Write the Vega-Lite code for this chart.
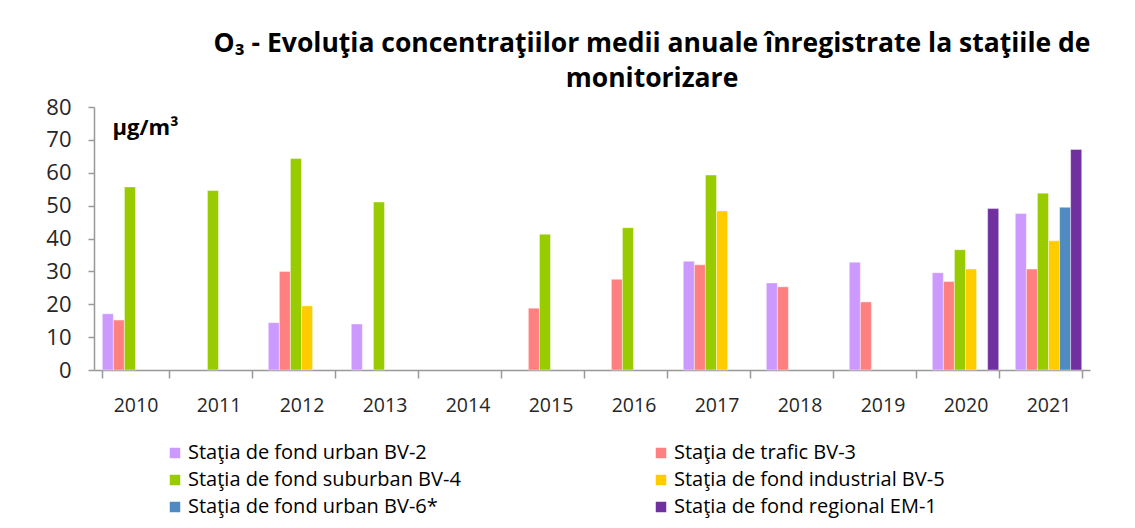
{
  "$schema": "https://vega.github.io/schema/vega-lite/v6.json",
  "autosize": "none",
  "width": 996,
  "height": 263,
  "padding": {"left": 94, "top": 107, "right": 45, "bottom": 158},
  "background": "white",
  "config": {
    "view": {"stroke": null},
    "font": "Open Sans"
  },
  "title": {
    "text": ["O₃ -  Evoluţia concentraţiilor medii anuale înregistrate la staţiile de", "monitorizare"],
    "font": "Open Sans",
    "fontWeight": "bold",
    "fontSize": 26.5,
    "color": "#000000",
    "anchor": "middle",
    "dx": 60,
    "offset": 4,
    "lineHeight": 35
  },
  "data": {
    "values": [
      {"year": "2010", "station": "Staţia de fond urban BV-2", "value": 17.1},
      {"year": "2010", "station": "Staţia de trafic BV-3", "value": 15.2},
      {"year": "2010", "station": "Staţia de fond suburban BV-4", "value": 55.7},
      {"year": "2011", "station": "Staţia de fond suburban BV-4", "value": 54.6},
      {"year": "2012", "station": "Staţia de fond urban BV-2", "value": 14.4},
      {"year": "2012", "station": "Staţia de trafic BV-3", "value": 30.0},
      {"year": "2012", "station": "Staţia de fond suburban BV-4", "value": 64.3},
      {"year": "2012", "station": "Staţia de fond industrial BV-5", "value": 19.5},
      {"year": "2013", "station": "Staţia de fond urban BV-2", "value": 14.0},
      {"year": "2013", "station": "Staţia de fond suburban BV-4", "value": 51.1},
      {"year": "2015", "station": "Staţia de trafic BV-3", "value": 18.8},
      {"year": "2015", "station": "Staţia de fond suburban BV-4", "value": 41.3},
      {"year": "2016", "station": "Staţia de trafic BV-3", "value": 27.6},
      {"year": "2016", "station": "Staţia de fond suburban BV-4", "value": 43.3},
      {"year": "2017", "station": "Staţia de fond urban BV-2", "value": 33.1},
      {"year": "2017", "station": "Staţia de trafic BV-3", "value": 32.0},
      {"year": "2017", "station": "Staţia de fond suburban BV-4", "value": 59.3},
      {"year": "2017", "station": "Staţia de fond industrial BV-5", "value": 48.4},
      {"year": "2018", "station": "Staţia de fond urban BV-2", "value": 26.5},
      {"year": "2018", "station": "Staţia de trafic BV-3", "value": 25.3},
      {"year": "2019", "station": "Staţia de fond urban BV-2", "value": 32.8},
      {"year": "2019", "station": "Staţia de trafic BV-3", "value": 20.7},
      {"year": "2020", "station": "Staţia de fond urban BV-2", "value": 29.6},
      {"year": "2020", "station": "Staţia de trafic BV-3", "value": 26.9},
      {"year": "2020", "station": "Staţia de fond suburban BV-4", "value": 36.6},
      {"year": "2020", "station": "Staţia de fond industrial BV-5", "value": 30.7},
      {"year": "2020", "station": "Staţia de fond regional EM-1", "value": 49.1},
      {"year": "2021", "station": "Staţia de fond urban BV-2", "value": 47.6},
      {"year": "2021", "station": "Staţia de trafic BV-3", "value": 30.7},
      {"year": "2021", "station": "Staţia de fond suburban BV-4", "value": 53.8},
      {"year": "2021", "station": "Staţia de fond industrial BV-5", "value": 39.3},
      {"year": "2021", "station": "Staţia de fond urban BV-6*", "value": 49.5},
      {"year": "2021", "station": "Staţia de fond regional EM-1", "value": 67.1}
    ]
  },
  "mark": {"type": "bar", "stroke": "white", "strokeWidth": 0.6, "strokeOpacity": 0.7},
  "encoding": {
    "x": {
      "field": "year",
      "type": "nominal",
      "scale": {
        "domain": ["2010","2011","2012","2013","2014","2015","2016","2017","2018","2019","2020","2021"],
        "paddingInner": 0.2,
        "paddingOuter": 0.1
      },
      "axis": {
        "title": null,
        "labelAngle": 0,
        "labelFontSize": 19.5,
        "labelColor": "#262626",
        "labelPadding": 18,
        "tickBand": "extent",
        "tickSize": 8,
        "tickColor": "#999999",
        "domainColor": "#999999",
        "domainWidth": 1.5,
        "tickWidth": 1.5
      }
    },
    "xOffset": {
      "field": "station",
      "type": "nominal",
      "scale": {
        "domain": ["Staţia de fond urban BV-2", "Staţia de trafic BV-3", "Staţia de fond suburban BV-4", "Staţia de fond industrial BV-5", "Staţia de fond urban BV-6*", "Staţia de fond regional EM-1"],
        "paddingInner": 0,
        "paddingOuter": 0
      }
    },
    "y": {
      "field": "value",
      "type": "quantitative",
      "scale": {"domain": [0, 80]},
      "axis": {
        "title": "µg/m³",
        "titleAngle": 0,
        "titleX": 18,
        "titleY": 32,
        "titleAlign": "left",
        "titleFontSize": 22,
        "titleFontWeight": "bold",
        "titleColor": "#000000",
        "values": [0,10,20,30,40,50,60,70,80],
        "labelFontSize": 22,
        "labelColor": "#262626",
        "labelPadding": 17,
        "grid": false,
        "tickSize": 6,
        "tickColor": "#999999",
        "domainColor": "#999999",
        "domainWidth": 1.5,
        "tickWidth": 1.5
      }
    },
    "color": {
      "field": "station",
      "type": "nominal",
      "scale": {
        "domain": ["Staţia de fond urban BV-2", "Staţia de trafic BV-3", "Staţia de fond suburban BV-4", "Staţia de fond industrial BV-5", "Staţia de fond urban BV-6*", "Staţia de fond regional EM-1"],
        "range": ["#CC99FF", "#FF8080", "#99CC00", "#FFCC00", "#4F8BC0", "#7030A0"]
      },
      "legend": {
        "title": null,
        "orient": "none",
        "direction": "horizontal",
        "legendX": 71,
        "legendY": 336,
        "columns": 2,
        "columnPadding": 190,
        "rowPadding": 7,
        "symbolType": "square",
        "symbolSize": 110,
        "symbolStrokeWidth": 0,
        "labelFontSize": 20,
        "labelColor": "#000000",
        "labelLimit": 400,
        "labelOffset": 3
      }
    }
  }
}
